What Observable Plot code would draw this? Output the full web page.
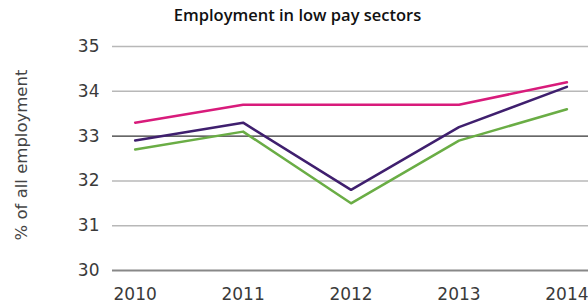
<!DOCTYPE html>
<html>
<head>
<meta charset="utf-8">
<script src="https://cdn.jsdelivr.net/npm/d3@7"></script>
<script src="https://cdn.jsdelivr.net/npm/@observablehq/plot@0.6"></script>
<style>
  html, body { margin: 0; padding: 0; background: #fff; }
  #wrap { position: relative; width: 588px; height: 305px; overflow: hidden; }
  #title { position: absolute; left: 0; width: 595px; top: 3px; text-align: center;
           font-family: "Open Sans", sans-serif; font-weight: 600; font-size: 16.5px; color: #111; }
  #ylab { position: absolute; left: 21px; top: 155px; transform: translate(-50%, -50%) rotate(-90deg);
          white-space: nowrap; font-family: "DejaVu Sans", sans-serif; font-size: 16.5px; color: #444; }
</style>
</head>
<body>
<div id="wrap">
  <div id="title">Employment in low pay sectors</div>
  <div id="ylab">% of all employment</div>
</div>
<script>
const years = [2010, 2011, 2012, 2013, 2014];
const seriesNames = ["Series A", "Series B", "Series C"];
const seriesAValues = [33.3, 33.7, 33.7, 33.7, 34.2];
const seriesBValues = [32.9, 33.3, 31.8, 33.2, 34.1];
const seriesCValues = [32.7, 33.1, 31.5, 32.9, 33.6];
const yTicks = [30, 31, 32, 33, 34, 35];
const colors = ["#d81b7b", "#3f1f6e", "#6aad45"];

const allValues = [seriesAValues, seriesBValues, seriesCValues];
const data = [];
seriesNames.forEach((s, i) => years.forEach((y, j) => data.push({series: s, year: y, value: allValues[i][j]})));

const chart = Plot.plot({
  width: 588,
  height: 305,
  marginTop: 46,
  marginBottom: 35,
  marginLeft: 112,
  marginRight: 0,
  style: {fontFamily: "DejaVu Sans, sans-serif", fontSize: "17px", color: "#3a3a3a", background: "transparent"},
  x: {domain: [2009.79, 2014.2], label: null},
  y: {domain: [30, 35], label: null},
  color: {domain: seriesNames, range: colors},
  marks: [
    Plot.ruleY(yTicks.filter(d => d !== 33 && d !== 30), {stroke: "#b8b8b8", strokeWidth: 1.5}),
    Plot.ruleY([33], {stroke: "#000", strokeWidth: 1}),
    Plot.ruleY([30], {stroke: "#888", strokeWidth: 2}),
    Plot.axisX({ticks: years, tickFormat: d => String(d), tickSize: 0, tickPadding: 17, label: null}),
    Plot.axisY({ticks: yTicks, tickFormat: d => String(d), tickSize: 0, tickPadding: 13, label: null}),
    Plot.line(data, {x: "year", y: "value", z: "series", stroke: "series", strokeWidth: 2.5, curve: "linear"})
  ]
});
document.getElementById("wrap").insertBefore(chart, document.getElementById("wrap").firstChild);
chart.style.position = "absolute";
chart.style.left = "0";
chart.style.top = "0";
</script>
</body>
</html>
